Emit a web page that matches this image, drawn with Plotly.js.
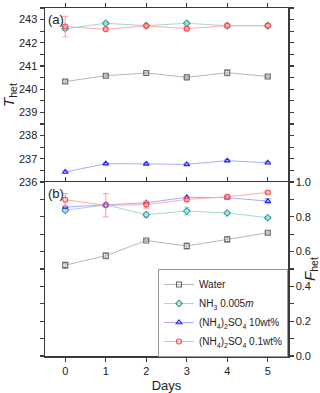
<!DOCTYPE html>
<html>
<head>
<meta charset="utf-8">
<script src="https://cdn.plot.ly/plotly-3.0.1.min.js"></script>
<style>
  html, body { margin: 0; padding: 0; background: #fff; }
  #chartDiv { width: 320px; height: 393px; }
</style>
</head>
<body>
<div id="chartDiv"></div>
<script>
// days on the x axis
var days = [0, 1, 2, 3, 4, 5];

// panel (a): T_het
var waterT = [240.33, 240.58, 240.70, 240.51, 240.71, 240.55];
var waterTErr = [0.07, 0.05, 0.04, 0.04, 0.14, 0.05];
var nh3T = [242.61, 242.84, 242.74, 242.84, 242.74, 242.74];
var nh3TErr = [0.07, 0.04, 0.04, 0.04, 0.04, 0.04];
var asHighT = [236.43, 236.79, 236.78, 236.76, 236.92, 236.83];
var asHighTErr = [0.04, 0.04, 0.04, 0.04, 0.04, 0.04];
var asLowT = [242.70, 242.58, 242.73, 242.61, 242.74, 242.74];
var asLowTErr = [0.44, 0.05, 0.05, 0.05, 0.05, 0.05];

// panel (b): F_het
var waterF = [0.522, 0.576, 0.664, 0.632, 0.670, 0.708];
var waterFErr = [0.018, 0.018, 0.006, 0.018, 0.014, 0.006];
var nh3F = [0.837, 0.869, 0.812, 0.833, 0.822, 0.795];
var nh3FErr = [0.008, 0.006, 0.014, 0.022, 0.006, 0.006];
var asHighF = [0.856, 0.869, 0.881, 0.912, 0.910, 0.890];
var asHighFErr = [0.006, 0.006, 0.006, 0.006, 0.006, 0.015];
var asLowF = [0.898, 0.866, 0.870, 0.900, 0.915, 0.940];
var asLowFErr = [0.035, 0.067, 0.020, 0.010, 0.008, 0.006];

var seriesNames = [
  'Water',
  'NH<sub>3</sub> 0.005<i>m</i>',
  '(NH<sub>4</sub>)<sub>2</sub>SO<sub>4</sub> 10wt%',
  '(NH<sub>4</sub>)<sub>2</sub>SO<sub>4</sub> 0.1wt%'
];

var styles = [
  {marker: '#666666', line: '#b8b8b8', symbol: 'square-open'},
  {marker: '#2a9d9d', line: '#a3d9d9', symbol: 'diamond-open'},
  {marker: '#2222ff', line: '#ababff', symbol: 'triangle-up-open'},
  {marker: '#ff4444', line: '#ffaaaa', symbol: 'circle-open'}
];

function makeTrace(i, y, err, yaxis, showLeg)
{
  var st = styles[i];
  return {
    x: days,
    y: y,
    type: 'scatter',
    mode: 'lines+markers',
    name: seriesNames[i],
    xaxis: yaxis == 'y' ? 'x2' : 'x',
    yaxis: yaxis,
    showlegend: showLeg,
    legendgroup: 'g' + i,
    line: {color: st.line, width: 1},
    marker: {symbol: st.symbol, size: 5, color: st.marker, line: {width: 1.1, color: st.marker}},
    error_y: {type: 'data', array: err, visible: true, color: st.line, thickness: 1.2, width: 3}
  };
}

var data = [
  makeTrace(0, waterT, waterTErr, 'y', false),
  makeTrace(1, nh3T, nh3TErr, 'y', false),
  makeTrace(2, asHighT, asHighTErr, 'y', false),
  makeTrace(3, asLowT, asLowTErr, 'y', false),
  makeTrace(0, waterF, waterFErr, 'y2', true),
  makeTrace(1, nh3F, nh3FErr, 'y2', true),
  makeTrace(2, asHighF, asHighFErr, 'y2', true),
  makeTrace(3, asLowF, asLowFErr, 'y2', true)
];

var axisColor = '#3a3a3a';
var fontFam = '"Liberation Sans", Arial, sans-serif';

var layout = {
  width: 320,
  height: 393,
  margin: {l: 45, r: 32, t: 8, b: 37},
  paper_bgcolor: '#fff',
  plot_bgcolor: '#fff',
  font: {family: fontFam, size: 11, color: '#222'},
  showlegend: true,
  legend: {
    x: 1, xanchor: 'right', y: 0.25, yanchor: 'top',
    bgcolor: '#fff', bordercolor: '#999', borderwidth: 1,
    font: {size: 10, family: fontFam},
    tracegroupgap: 0, itemwidth: 30
  },
  xaxis: {
    anchor: 'y2',
    range: [-0.5, 5.5],
    tickvals: days,
    ticks: 'outside', ticklen: 4, tickwidth: 1.2, tickcolor: axisColor,
    showline: true, linecolor: axisColor, linewidth: 1.5, mirror: 'ticks',
    showgrid: false, zeroline: false,
    title: {text: 'Days', font: {size: 13}, standoff: 6}
  },
  xaxis2: {
    anchor: 'y',
    matches: 'x',
    range: [-0.5, 5.5],
    side: 'top',
    tickvals: days,
    showticklabels: false,
    ticks: 'outside', ticklen: 4, tickwidth: 1.2, tickcolor: axisColor,
    showline: true, linecolor: axisColor, linewidth: 1.5,
    showgrid: false, zeroline: false
  },
  yaxis: {
    domain: [0.5, 1],
    range: [236, 243.5],
    dtick: 1,
    ticks: 'outside', ticklen: 4, tickwidth: 1.2, tickcolor: axisColor,
    minor: {dtick: 0.5, ticks: 'outside', ticklen: 4, tickcolor: axisColor, tickwidth: 1.2},
    showline: true, linecolor: axisColor, linewidth: 1.5, mirror: 'ticks',
    showgrid: false, zeroline: false,
    title: {text: '<i>T</i><sub>het</sub>', font: {size: 15}, standoff: 4}
  },
  yaxis2: {
    domain: [0, 0.5],
    range: [0, 1],
    side: 'right',
    dtick: 0.2,
    tickformat: '.1f',
    ticks: 'outside', ticklen: 4, tickwidth: 1.2, tickcolor: axisColor,
    minor: {dtick: 0.1, ticks: 'outside', ticklen: 4, tickcolor: axisColor, tickwidth: 1.2},
    showline: true, linecolor: axisColor, linewidth: 1.5, mirror: 'ticks',
    showgrid: false, zeroline: false,
    title: {text: '<i>F</i><sub>het</sub>', font: {size: 15}, standoff: 4}
  },
  annotations: [
    {text: '(a)', xref: 'paper', yref: 'paper', x: 0.005, y: 0.995, xanchor: 'left', yanchor: 'top',
     showarrow: false, font: {size: 13}},
    {text: '(b)', xref: 'paper', yref: 'paper', x: 0.005, y: 0.495, xanchor: 'left', yanchor: 'top',
     showarrow: false, font: {size: 13}}
  ]
};

Plotly.newPlot('chartDiv', data, layout, {displayModeBar: false, staticPlot: true});
</script>
</body>
</html>
